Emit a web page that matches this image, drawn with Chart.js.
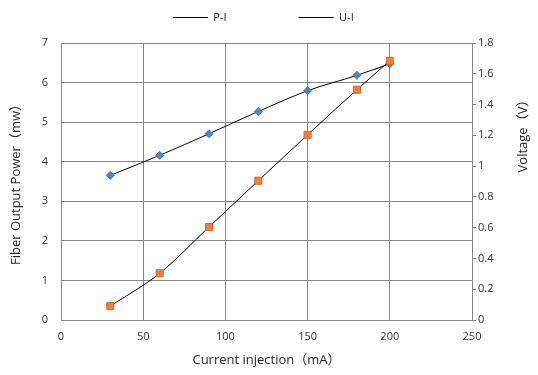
<!DOCTYPE html>
<html><head><meta charset="utf-8">
<script src="https://cdn.jsdelivr.net/npm/chart.js@4/dist/chart.umd.min.js"></script>
<style>html,body{margin:0;padding:0;background:#fff}#wrap{width:538px;height:375px}</style>
</head><body><div id="wrap"><canvas id="c" width="538" height="375"></canvas></div>
<script>
// ---- data ----
const currents = [30, 60, 90, 120, 150, 180, 200];            // mA
const powerMW  = [0.35, 1.18, 2.35, 3.52, 4.68, 5.82, 6.55];    // P-I, left axis (mw)
const voltageV = [0.94, 1.07, 1.21, 1.355, 1.49, 1.59, 1.665];  // U-I, right axis (V)
const seriesNames = ['P-I', 'U-I'];
const xTitle = 'Current injection（mA）';
const yTitle = 'Fiber Output Power（mw）';
const y1Title = 'Voltage（V）';

const FONT = '"Open Sans", "Noto Sans CJK SC", sans-serif';
const GRID = '#858585';

const rightTitle = {
  id: 'rightTitle',
  afterDraw(chart) {
    const ctx = chart.ctx;
    ctx.save();
    ctx.font = '13px ' + FONT;
    ctx.fillStyle = '#262626';
    ctx.textAlign = 'center';
    ctx.textBaseline = 'middle';
    ctx.translate(chart.width - 15, chart.chartArea.top + 90);
    ctx.rotate(-Math.PI / 2);
    ctx.fillText(y1Title, 0, 0);
    ctx.restore();
  }
};

new Chart(document.getElementById('c'), {
  type: 'line',
  data: {
    datasets: [
      {
        label: seriesNames[0],
        data: currents.map((x, i) => ({x, y: powerMW[i]})),
        yAxisID: 'y',
        borderColor: '#000', borderWidth: 1, cubicInterpolationMode: 'monotone',
        pointStyle: 'rect', pointRadius: 5,
        pointBackgroundColor: '#f0803c', pointBorderColor: '#d8652a', pointBorderWidth: 1
      },
      {
        label: seriesNames[1],
        data: currents.map((x, i) => ({x, y: voltageV[i]})),
        yAxisID: 'y1',
        borderColor: '#000', borderWidth: 1, cubicInterpolationMode: 'monotone',
        pointStyle: 'rectRot', pointRadius: 4,
        pointBackgroundColor: '#4f86c6', pointBorderColor: '#4578b8', pointBorderWidth: 1
      }
    ]
  },
  options: {
    responsive: false, animation: false, devicePixelRatio: 1,
    layout: {padding: 0},
    plugins: {
      tooltip: {enabled: false},
      title: {display: true, text: '', position: 'top', weight: 500,
              padding: {top: 0, bottom: 9}, font: {size: 1, lineHeight: 1}},
      legend: {
        position: 'top',
        labels: {
          font: {family: FONT, size: 11}, color: '#222',
          boxWidth: 35, boxHeight: 1, padding: 12,
          generateLabels: () => [
            {text: seriesNames[0] + ' '.repeat(21), fillStyle: '#000', strokeStyle: '#000', lineWidth: 0, datasetIndex: 0, hidden: false, fontColor: '#222'},
            {text: seriesNames[1] + ' '.repeat(4), fillStyle: '#000', strokeStyle: '#000', lineWidth: 0, datasetIndex: 1, hidden: false, fontColor: '#222'}
          ]
        }
      }
    },
    scales: {
      x: {
        type: 'linear', position: 'bottom', min: 0, max: 250,
        ticks: {stepSize: 50, padding: 10, color: '#333', font: {family: FONT, size: 11}},
        grid: {color: GRID, drawTicks: false},
        border: {color: GRID},
        title: {display: true, text: xTitle, color: '#262626', font: {family: FONT, size: 13}, padding: {top: 0, bottom: 7}},
        afterFit: s => { s.height = 55; }
      },
      y: {
        position: 'left', min: 0, max: 7,
        ticks: {stepSize: 1, padding: 13, color: '#333', font: {family: FONT, size: 11}},
        grid: {color: GRID, drawTicks: false},
        border: {color: GRID},
        title: {display: true, text: yTitle, color: '#262626', font: {family: FONT, size: 13}, padding: {top: 8, bottom: 0}},
        afterFit: s => { s.width = 61; }
      },
      y1: {
        position: 'right', min: 0, max: 1.8,
        ticks: {stepSize: 0.2, padding: 2, color: '#333', font: {family: FONT, size: 11},
                callback: v => String(Number(v.toFixed(2)))},
        grid: {drawOnChartArea: false, drawTicks: true, tickLength: 4, color: GRID},
        border: {color: GRID},
        afterFit: s => { s.width = 66; }
      }
    }
  },
  plugins: [rightTitle]
});
</script>
</body></html>
